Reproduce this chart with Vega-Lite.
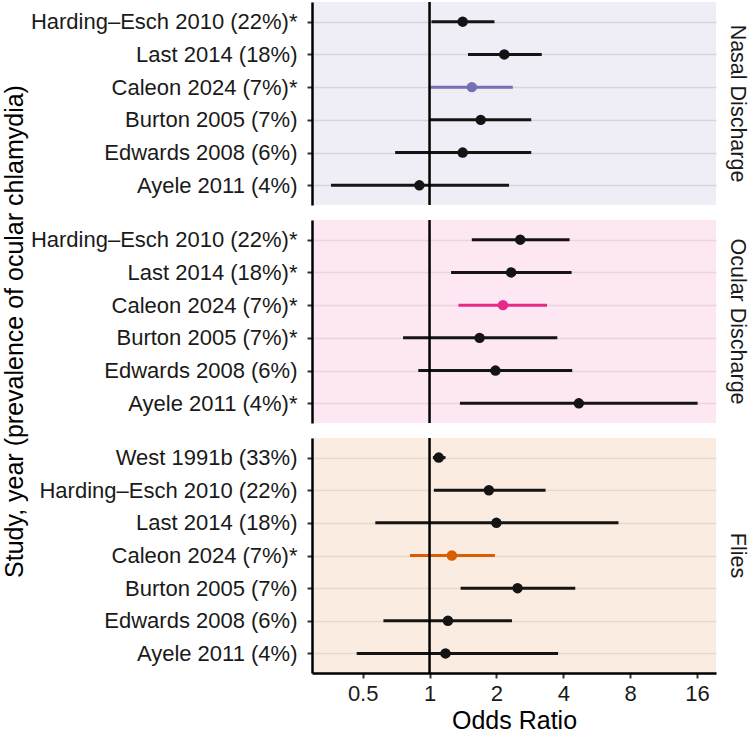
{
  "$schema": "https://vega.github.io/schema/vega-lite/v6.json",
  "padding": {"left": 2, "top": 0, "right": 0, "bottom": 0},
  "spacing": 15,
  "bounds": "flush",
  "datasets": {
    "ors": [
      {"panel": "Nasal Discharge", "row": 1, "label": "Harding–Esch 2010 (22%)*", "study": "Harding–Esch 2010", "or": 1.41, "lo": 1.02, "hi": 1.96},
      {"panel": "Nasal Discharge", "row": 2, "label": "Last 2014 (18%)", "study": "Last 2014", "or": 2.17, "lo": 1.49, "hi": 3.20},
      {"panel": "Nasal Discharge", "row": 3, "label": "Caleon 2024 (7%)*", "study": "Caleon 2024", "or": 1.55, "lo": 1.01, "hi": 2.37},
      {"panel": "Nasal Discharge", "row": 4, "label": "Burton 2005 (7%)", "study": "Burton 2005", "or": 1.70, "lo": 1.00, "hi": 2.87},
      {"panel": "Nasal Discharge", "row": 5, "label": "Edwards 2008 (6%)", "study": "Edwards 2008", "or": 1.41, "lo": 0.70, "hi": 2.87},
      {"panel": "Nasal Discharge", "row": 6, "label": "Ayele 2011 (4%)", "study": "Ayele 2011", "or": 0.90, "lo": 0.36, "hi": 2.28},
      {"panel": "Ocular Discharge", "row": 1, "label": "Harding–Esch 2010 (22%)*", "study": "Harding–Esch 2010", "or": 2.56, "lo": 1.55, "hi": 4.27},
      {"panel": "Ocular Discharge", "row": 2, "label": "Last 2014 (18%)*", "study": "Last 2014", "or": 2.33, "lo": 1.25, "hi": 4.36},
      {"panel": "Ocular Discharge", "row": 3, "label": "Caleon 2024 (7%)*", "study": "Caleon 2024", "or": 2.14, "lo": 1.35, "hi": 3.38},
      {"panel": "Ocular Discharge", "row": 4, "label": "Burton 2005 (7%)*", "study": "Burton 2005", "or": 1.68, "lo": 0.76, "hi": 3.76},
      {"panel": "Ocular Discharge", "row": 5, "label": "Edwards 2008 (6%)", "study": "Edwards 2008", "or": 1.98, "lo": 0.89, "hi": 4.39},
      {"panel": "Ocular Discharge", "row": 6, "label": "Ayele 2011 (4%)*", "study": "Ayele 2011", "or": 4.70, "lo": 1.37, "hi": 16.1},
      {"panel": "Flies", "row": 1, "label": "West 1991b (33%)", "study": "West 1991b", "or": 1.10, "lo": 1.035, "hi": 1.18},
      {"panel": "Flies", "row": 2, "label": "Harding–Esch 2010 (22%)", "study": "Harding–Esch 2010", "or": 1.85, "lo": 1.046, "hi": 3.33},
      {"panel": "Flies", "row": 3, "label": "Last 2014 (18%)", "study": "Last 2014", "or": 2.00, "lo": 0.57, "hi": 7.09},
      {"panel": "Flies", "row": 4, "label": "Caleon 2024 (7%)*", "study": "Caleon 2024", "or": 1.26, "lo": 0.816, "hi": 1.97},
      {"panel": "Flies", "row": 5, "label": "Burton 2005 (7%)", "study": "Burton 2005", "or": 2.49, "lo": 1.38, "hi": 4.53},
      {"panel": "Flies", "row": 6, "label": "Edwards 2008 (6%)", "study": "Edwards 2008", "or": 1.21, "lo": 0.62, "hi": 2.35},
      {"panel": "Flies", "row": 7, "label": "Ayele 2011 (4%)", "study": "Ayele 2011", "or": 1.18, "lo": 0.47, "hi": 3.79}
    ],
    "ref": [{"null_or": 1}]
  },
  "vconcat": [
    {
      "width": 404, "height": 203,
      "view": {"fill": "#efeef6", "stroke": null},
      "title": {"text": "Nasal Discharge", "orient": "right", "anchor": "middle", "offset": 10},
      "data": {"name": "ors"},
      "transform": [{"filter": "datum.panel === 'Nasal Discharge'"}],
      "layer": [
        {
          "mark": {"type": "rule", "strokeWidth": 3},
          "encoding": {
            "x": {"field": "lo", "type": "quantitative", "scale": {"type": "log", "base": 2, "domain": [0.2957, 19.48], "nice": false, "zero": false}, "axis": null},
            "x2": {"field": "hi"},
            "y": {"field": "label", "type": "ordinal", "sort": {"field": "row", "op": "min", "order": "ascending"}, "scale": {"type": "point", "padding": 0.6}, "axis": {"title": null, "gridColor": "#d6d5de"}},
            "color": {"condition": {"test": "datum.study === 'Caleon 2024'", "value": "#7570b3"}, "value": "#141414"}
          }
        },
        {
          "mark": {"type": "circle", "size": 110, "opacity": 1},
          "encoding": {
            "x": {"field": "or", "type": "quantitative"},
            "y": {"field": "label", "type": "ordinal", "sort": {"field": "row", "op": "min", "order": "ascending"}},
            "color": {"condition": {"test": "datum.study === 'Caleon 2024'", "value": "#7570b3"}, "value": "#141414"}
          }
        },
        {
          "data": {"name": "ref"},
          "mark": {"type": "rule", "strokeWidth": 2.5, "color": "#000000"},
          "encoding": {"x": {"field": "null_or", "type": "quantitative"}}
        }
      ]
    },
    {
      "width": 404, "height": 203,
      "view": {"fill": "#fce7f3", "stroke": null},
      "title": {"text": "Ocular Discharge", "orient": "right", "anchor": "middle", "offset": 10},
      "data": {"name": "ors"},
      "transform": [{"filter": "datum.panel === 'Ocular Discharge'"}],
      "layer": [
        {
          "mark": {"type": "rule", "strokeWidth": 3},
          "encoding": {
            "x": {"field": "lo", "type": "quantitative", "scale": {"type": "log", "base": 2, "domain": [0.2957, 19.48], "nice": false, "zero": false}, "axis": null},
            "x2": {"field": "hi"},
            "y": {"field": "label", "type": "ordinal", "sort": {"field": "row", "op": "min", "order": "ascending"}, "scale": {"type": "point", "padding": 0.6}, "axis": {"title": "Study, year (prevalence of ocular chlamydia)", "titleX": -285, "titleY": 111, "gridColor": "#ecd3df"}},
            "color": {"condition": {"test": "datum.study === 'Caleon 2024'", "value": "#e7298a"}, "value": "#141414"}
          }
        },
        {
          "mark": {"type": "circle", "size": 110, "opacity": 1},
          "encoding": {
            "x": {"field": "or", "type": "quantitative"},
            "y": {"field": "label", "type": "ordinal", "sort": {"field": "row", "op": "min", "order": "ascending"}},
            "color": {"condition": {"test": "datum.study === 'Caleon 2024'", "value": "#e7298a"}, "value": "#141414"}
          }
        },
        {
          "data": {"name": "ref"},
          "mark": {"type": "rule", "strokeWidth": 2.5, "color": "#000000"},
          "encoding": {"x": {"field": "null_or", "type": "quantitative"}}
        }
      ]
    },
    {
      "width": 404, "height": 235,
      "view": {"fill": "#fbece1", "stroke": null},
      "title": {"text": "Flies", "orient": "right", "anchor": "middle", "offset": 10},
      "data": {"name": "ors"},
      "transform": [{"filter": "datum.panel === 'Flies'"}],
      "layer": [
        {
          "mark": {"type": "rule", "strokeWidth": 3},
          "encoding": {
            "x": {"field": "lo", "type": "quantitative", "scale": {"type": "log", "base": 2, "domain": [0.2957, 19.48], "nice": false, "zero": false}, "axis": {"title": "Odds Ratio", "values": [0.5, 1, 2, 4, 8, 16], "format": "~g", "grid": false, "labelPadding": 5, "titlePadding": 4}},
            "x2": {"field": "hi"},
            "y": {"field": "label", "type": "ordinal", "sort": {"field": "row", "op": "min", "order": "ascending"}, "scale": {"type": "point", "padding": 0.6}, "axis": {"title": null, "gridColor": "#e9d9cd"}},
            "color": {"condition": {"test": "datum.study === 'Caleon 2024'", "value": "#d95f02"}, "value": "#141414"}
          }
        },
        {
          "mark": {"type": "circle", "size": 110, "opacity": 1},
          "encoding": {
            "x": {"field": "or", "type": "quantitative"},
            "y": {"field": "label", "type": "ordinal", "sort": {"field": "row", "op": "min", "order": "ascending"}},
            "color": {"condition": {"test": "datum.study === 'Caleon 2024'", "value": "#d95f02"}, "value": "#141414"}
          }
        },
        {
          "data": {"name": "ref"},
          "mark": {"type": "rule", "strokeWidth": 2.5, "color": "#000000"},
          "encoding": {"x": {"field": "null_or", "type": "quantitative"}}
        }
      ]
    }
  ],
  "config": {
    "font": "Liberation Sans",
    "view": {"stroke": null},
    "title": {"fontSize": 21.5, "fontWeight": "normal", "color": "#1a1a1a", "font": "Liberation Sans"},
    "axis": {
      "labelFont": "Liberation Sans",
      "titleFont": "Liberation Sans",
      "labelFontSize": 22,
      "titleFontSize": 25,
      "titleFontWeight": "normal",
      "labelColor": "#1a1a1a",
      "titleColor": "#000000",
      "domainColor": "#000000",
      "domainWidth": 2.5,
      "tickColor": "#333333",
      "tickWidth": 2,
      "tickSize": 5,
      "gridWidth": 1.3
    },
    "axisY": {"labelPadding": 10, "grid": true, "labelLimit": 400}
  }
}
